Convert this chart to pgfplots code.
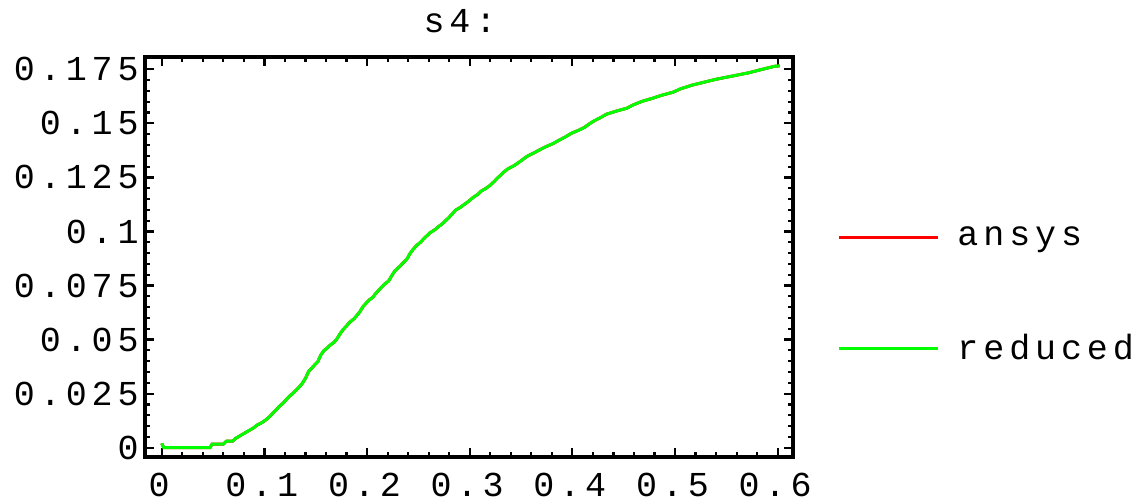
\documentclass[border=0pt]{standalone}
\usepackage{fontspec}
\newfontfamily\mono[LetterSpace=14]{Liberation Mono}
\usepackage{pgfplots}
\pgfplotsset{compat=1.18}
\usepackage{pgfplotstable}
\pgfplotstableread{
x y
0 0.002
0.002 0.0
0.047 0.0
0.049 0.0016
0.060 0.0016
0.063 0.003
0.069 0.003
0.072 0.0043
0.077 0.0057
0.083 0.0074
0.089 0.009
0.093 0.0105
0.098 0.0117
0.102 0.0131
0.106 0.0148
0.109 0.0164
0.112 0.0178
0.115 0.0193
0.118 0.0205
0.121 0.0221
0.124 0.0236
0.128 0.0252
0.131 0.0267
0.134 0.0281
0.137 0.0298
0.140 0.0321
0.143 0.0352
0.146 0.0367
0.149 0.0383
0.152 0.0398
0.155 0.0429
0.158 0.0449
0.161 0.0460
0.164 0.0474
0.168 0.0488
0.171 0.0506
0.174 0.0529
0.177 0.0548
0.180 0.0563
0.183 0.0580
0.187 0.0595
0.190 0.0611
0.193 0.0629
0.196 0.0652
0.199 0.0668
0.202 0.0683
0.206 0.0697
0.208 0.0711
0.211 0.0726
0.214 0.0742
0.217 0.0756
0.221 0.0771
0.224 0.0795
0.227 0.0817
0.230 0.0830
0.233 0.0844
0.236 0.0859
0.239 0.0874
0.242 0.0899
0.245 0.0918
0.248 0.0934
0.252 0.0950
0.255 0.0965
0.258 0.0979
0.261 0.0993
0.266 0.1008
0.270 0.1024
0.274 0.1038
0.277 0.1052
0.280 0.1066
0.283 0.1081
0.286 0.1098
0.291 0.1112
0.295 0.1126
0.299 0.1140
0.303 0.1156
0.308 0.1172
0.311 0.1186
0.316 0.1200
0.320 0.1214
0.324 0.1232
0.327 0.1247
0.330 0.1260
0.333 0.1274
0.337 0.1289
0.343 0.1304
0.348 0.1320
0.352 0.1334
0.356 0.1348
0.362 0.1362
0.368 0.1377
0.374 0.1392
0.381 0.1406
0.387 0.1422
0.393 0.1437
0.399 0.1454
0.406 0.1468
0.412 0.1482
0.416 0.1496
0.421 0.1511
0.428 0.1528
0.433 0.1542
0.443 0.1557
0.453 0.1570
0.459 0.1585
0.468 0.1602
0.478 0.1616
0.487 0.1630
0.498 0.1644
0.505 0.1659
0.516 0.1676
0.528 0.1690
0.540 0.1704
0.555 0.1718
0.571 0.1733
0.585 0.1750
0.597 0.1764
0.602 0.1766
}\sfour
\definecolor{mgreen}{RGB}{0,255,0}
\definecolor{mred}{RGB}{255,0,0}
\begin{document}
\begin{tikzpicture}
\begin{axis}[
  width=324pt, height=200pt, scale only axis,
  xmin=-0.0163, xmax=0.6149, ymin=-0.0043, ymax=0.1807,
  axis line style={line width=1.8pt},
  xtick={0,0.1,0.2,0.3,0.4,0.5,0.6},
  xticklabels={0,0.1,0.2,0.3,0.4,0.5,0.6},
  ytick={0,0.025,0.05,0.075,0.1,0.125,0.15,0.175},
  yticklabels={0,0.025,0.05,0.075,0.1,0.125,0.15,0.175},
  minor x tick num=4, minor y tick num=4,
  major tick length=4.5pt, minor tick length=2.5pt,
  every tick/.style={black, line width=1.1pt},
  tick align=inside,
  ticklabel style={font=\mono\fontsize{17.5}{20}\selectfont, inner sep=0pt},
  xticklabel style={yshift=-8pt, xshift=-1.3pt},
  yticklabel style={xshift=-3pt},
  title={s4:},
  title style={at={(rel axis cs:0.486,1)}, anchor=base, yshift=6pt, inner sep=0pt, font=\mono\fontsize{17.5}{20}\selectfont},
  clip=false,
  legend cell align=left,
  legend image code/.code={\draw[#1, line width=1.5pt] (0pt,0pt) -- (49.5pt,0pt);},
  legend style={draw=none, fill=none, at={(1.068,0.406)}, anchor=west, inner sep=0pt, row sep=38.5pt,
    column sep=7pt,
    font=\mono\fontsize{17.5}{20}\selectfont},
]
\addplot[mred, line width=1.5pt] table[x=x, y=y] {\sfour};
\addlegendentry{ansys}
\addplot[mgreen, line width=1.5pt] table[x=x, y=y] {\sfour};
\addlegendentry{reduced}
\path (rel axis cs:-0.2238,-0.1125) rectangle (rel axis cs:1.5386,1.1425);
\end{axis}
\end{tikzpicture}
\end{document}
